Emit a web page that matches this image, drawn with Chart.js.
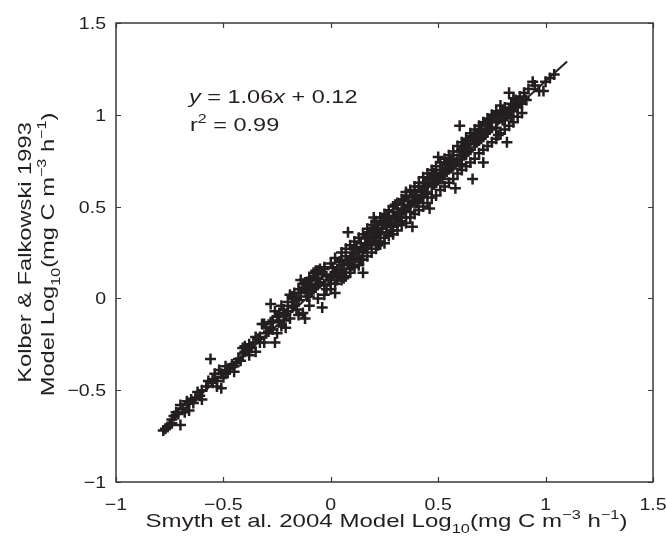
<!DOCTYPE html>
<html>
<head>
<meta charset="utf-8">
<script src="https://cdn.jsdelivr.net/npm/chart.js@4.4.0/dist/chart.umd.min.js"></script>
<style>
  body { margin: 0; background: #fff; }
  #wrap { width: 666px; height: 550px; }
</style>
</head>
<body>
<div id="wrap"><canvas id="scatterChart" width="666" height="550"></canvas></div>
<script>
  // values: [Smyth et al. 2004, Kolber & Falkowski 1993]
  const lowerBand = [
    [-0.78,-0.72],[-0.77,-0.71],[-0.76,-0.70],[-0.75,-0.69],[-0.74,-0.66],[-0.74,-0.68],[-0.73,-0.64],
    [-0.72,-0.62],[-0.71,-0.63],[-0.70,-0.69],[-0.70,-0.58],[-0.69,-0.60],[-0.68,-0.62],[-0.67,-0.56],
    [-0.66,-0.57],[-0.66,-0.61],[-0.65,-0.55],[-0.64,-0.57],[-0.63,-0.54],[-0.62,-0.51],[-0.61,-0.53],
    [-0.60,-0.50],[-0.60,-0.55],[-0.58,-0.48],[-0.57,-0.45],[-0.56,-0.33],[-0.55,-0.44],[-0.55,-0.46],
    [-0.54,-0.41],[-0.53,-0.45],[-0.53,-0.48],[-0.52,-0.39],[-0.51,-0.49],[-0.51,-0.41],[-0.50,-0.43],
    [-0.49,-0.41],[-0.49,-0.37],[-0.48,-0.40],[-0.47,-0.38],[-0.46,-0.36],[-0.45,-0.37],[-0.45,-0.40],
    [-0.44,-0.35],[-0.43,-0.33],[-0.42,-0.34],[-0.41,-0.30],[-0.41,-0.27],[-0.40,-0.26],[-0.40,-0.29],
    [-0.39,-0.28],[-0.38,-0.25],[-0.38,-0.31],[-0.37,-0.27],[-0.36,-0.24],[-0.35,-0.29],[-0.35,-0.21],
    [-0.34,-0.22],[-0.33,-0.21],[-0.33,-0.24],[-0.32,-0.14],[-0.31,-0.14],[-0.31,-0.24],[-0.30,-0.19],
    [-0.30,-0.16],[-0.29,-0.18]
  ];

  const middleBand = [
    [-0.28,-0.03],[-0.28,-0.13],[-0.27,-0.12],[-0.27,-0.17],[-0.26,-0.24],[-0.26,-0.07],[-0.25,-0.19],
    [-0.25,-0.10],[-0.24,-0.08],[-0.24,-0.13],[-0.23,-0.15],[-0.23,-0.04],[-0.22,-0.06],[-0.22,-0.12],
    [-0.21,-0.09],[-0.21,-0.16],[-0.20,-0.02],[-0.20,-0.07],[-0.19,0.02],[-0.19,-0.11],[-0.18,-0.05],
    [-0.18,0.01],[-0.17,-0.04],[-0.17,0.03],[-0.16,0.00],[-0.16,-0.06],[-0.15,-0.01],[-0.15,0.05],
    [-0.15,-0.09],[-0.14,0.10],[-0.14,0.03],[-0.13,-0.08],[-0.13,0.06],[-0.13,0.08],[-0.12,-0.11],
    [-0.12,0.05],[-0.11,0.01],[-0.11,0.09],[-0.10,0.07],[-0.10,0.01],[-0.10,-0.04],[-0.10,0.11],
    [-0.09,0.04],[-0.09,0.10],[-0.08,0.14],[-0.08,0.05],[-0.08,0.12],[-0.07,0.15],[-0.07,0.06],
    [-0.06,0.11],[-0.06,0.08],[-0.06,0.00],[-0.06,0.15],[-0.05,0.09],[-0.05,0.16],[-0.04,-0.05],
    [-0.04,0.13],[-0.03,0.16],[-0.03,0.07],[-0.03,0.02],[-0.03,0.17],[-0.02,0.05],[-0.02,0.12],
    [-0.01,0.10],[0.00,0.12],[0.00,0.08],[0.00,0.05],[0.00,0.19],[0.01,0.17],[0.01,0.13],[0.02,0.03],
    [0.02,0.14],[0.02,0.08],[0.02,0.22],[0.03,0.10],[0.03,0.16],[0.04,0.20],[0.04,0.12],[0.05,0.15],
    [0.05,0.21],[0.05,0.10],[0.05,0.25],[0.06,0.11],[0.06,0.18],[0.07,0.23],[0.07,0.14],[0.07,0.12],
    [0.07,0.27],[0.08,0.36],[0.08,0.19],[0.09,0.16],[0.09,0.22],[0.09,0.29],[0.09,0.14],[0.10,0.25],
    [0.10,0.18],[0.11,0.21],[0.11,0.27],[0.11,0.31],[0.11,0.17],[0.12,0.28],[0.12,0.22],[0.13,0.18],
    [0.13,0.25],[0.13,0.33],[0.14,0.30],[0.14,0.21],[0.15,0.14],[0.15,0.26],[0.15,0.21],[0.15,0.35],
    [0.16,0.33],[0.16,0.27],[0.17,0.29],[0.17,0.34],[0.17,0.23],[0.17,0.38],[0.18,0.36],[0.18,0.30],
    [0.19,0.31],[0.19,0.37],[0.19,0.25],[0.19,0.40],[0.20,0.44],[0.20,0.38],[0.20,0.33],[0.21,0.34],
    [0.21,0.40],[0.21,0.27],[0.21,0.42],[0.22,0.29],[0.22,0.40],[0.22,0.35],[0.23,0.36],[0.23,0.31],
    [0.23,0.30],[0.23,0.44],[0.24,0.42],[0.24,0.38],[0.25,0.33],[0.25,0.41],[0.25,0.30],[0.25,0.46],
    [0.26,0.45],[0.26,0.39],[0.26,0.36],[0.27,0.41],[0.27,0.44],[0.27,0.34],[0.27,0.48],[0.28,0.37],
    [0.28,0.41],[0.29,0.47],[0.29,0.39],[0.29,0.35],[0.29,0.50],[0.30,0.43],[0.30,0.51]
  ];

  const upperBand = [
    [0.31,0.40],[0.31,0.46],[0.31,0.37],[0.31,0.52],[0.32,0.46],[0.32,0.42],[0.33,0.49],[0.33,0.44],
    [0.33,0.40],[0.33,0.54],[0.34,0.53],[0.34,0.48],[0.35,0.44],[0.35,0.56],[0.35,0.41],[0.35,0.58],
    [0.36,0.50],[0.36,0.53],[0.37,0.47],[0.37,0.51],[0.37,0.44],[0.37,0.59],[0.38,0.39],[0.38,0.55],
    [0.39,0.58],[0.39,0.52],[0.39,0.46],[0.39,0.61],[0.40,0.52],[0.40,0.56],[0.41,0.61],[0.41,0.54],
    [0.41,0.48],[0.41,0.63],[0.42,0.55],[0.42,0.59],[0.43,0.60],[0.43,0.56],[0.43,0.50],[0.43,0.66],
    [0.44,0.63],[0.44,0.58],[0.45,0.57],[0.45,0.62],[0.45,0.52],[0.45,0.68],[0.46,0.49],[0.46,0.66],
    [0.47,0.61],[0.47,0.65],[0.47,0.55],[0.47,0.70],[0.48,0.68],[0.48,0.62],[0.49,0.63],[0.49,0.67],
    [0.49,0.56],[0.49,0.72],[0.50,0.77],[0.50,0.66],[0.51,0.70],[0.51,0.66],[0.51,0.59],[0.51,0.74],
    [0.52,0.65],[0.52,0.70],[0.53,0.73],[0.53,0.68],[0.53,0.61],[0.53,0.76],[0.54,0.69],[0.54,0.74],
    [0.55,0.75],[0.55,0.71],[0.55,0.63],[0.55,0.78],[0.56,0.71],[0.56,0.76],[0.57,0.78],[0.57,0.72],
    [0.57,0.65],[0.57,0.80],[0.58,0.60],[0.58,0.73],[0.59,0.76],[0.59,0.68],[0.59,0.83],[0.60,0.94],
    [0.60,0.80],[0.60,0.73],[0.61,0.76],[0.61,0.81],[0.61,0.70],[0.61,0.85],[0.62,0.83],[0.62,0.78],
    [0.63,0.79],[0.63,0.84],[0.63,0.72],[0.63,0.87],[0.64,0.86],[0.64,0.80],[0.65,0.81],[0.65,0.87],
    [0.65,0.74],[0.65,0.90],[0.66,0.65],[0.66,0.88],[0.67,0.84],[0.67,0.89],[0.67,0.76],[0.67,0.92],
    [0.68,0.90],[0.68,0.85],[0.69,0.86],[0.69,0.92],[0.69,0.79],[0.69,0.94],[0.70,0.92],[0.70,0.87],
    [0.71,0.74],[0.71,0.88],[0.71,0.81],[0.71,0.96],[0.72,0.95],[0.72,0.90],[0.73,0.91],[0.73,0.96],
    [0.73,0.83],[0.73,0.98],[0.74,0.97],[0.74,0.92],[0.75,0.93],[0.75,0.98],[0.75,0.85],[0.75,1.00],
    [0.76,0.99],[0.77,0.96],[0.77,0.93],[0.77,0.87],[0.77,1.02],[0.78,0.89],[0.78,1.00],[0.79,1.01],
    [0.79,0.90],[0.79,1.05],[0.80,0.97],[0.80,1.02],[0.81,1.04],[0.81,0.98],[0.81,0.92],[0.82,0.85],
    [0.82,1.00],[0.83,1.12],[0.83,1.03],[0.83,0.94],[0.84,1.06],[0.84,0.99],[0.85,1.02],[0.85,0.96],
    [0.85,1.09],[0.86,1.08],[0.86,1.05],[0.87,1.04],[0.87,0.99],[0.88,1.10],[0.88,1.07],[0.89,1.06],
    [0.89,1.01],[0.90,1.12],[0.90,1.09],[0.91,1.08],[0.92,1.14],[0.94,1.18],[0.95,1.16],[0.97,1.13],
    [0.99,1.13],[1.00,1.18],[1.02,1.20],[1.04,1.22]
  ];

  // fitted line y = 1.06x + 0.12, end points as drawn
  const fitX = [-0.78, 1.10];
  const fitY = [-0.71, 1.29];

  const xTicks = [-1, -0.5, 0, 0.5, 1, 1.5];
  const yTicks = [-1, -0.5, 0, 0.5, 1, 1.5];

  const ink = '#231f20';
  const fontFamily = '"Liberation Sans", Arial, sans-serif';

  const xTitle = [
    { t: 'Smyth et al. 2004 Model Log' }, { t: '10', sub: true }, { t: '(mg C m' },
    { t: '\u22123', sup: true }, { t: ' h' }, { t: '\u22121', sup: true }, { t: ')' }
  ];
  const yTitle1 = [{ t: 'Kolber & Falkowski 1993' }];
  const yTitle2 = [
    { t: 'Model Log' }, { t: '10', sub: true }, { t: '(mg C m' },
    { t: '\u22123', sup: true }, { t: ' h' }, { t: '\u22121', sup: true }, { t: ')' }
  ];
  const fitText = [{ t: 'y', it: true }, { t: ' = 1.06' }, { t: 'x', it: true }, { t: ' + 0.12' }];
  const r2Text = [{ t: 'r' }, { t: '2', sup: true }, { t: ' = 0.99' }];

  function partFont(p, size) {
    const s = (p.sub || p.sup) ? size * 0.68 : size;
    return (p.it ? 'italic ' : '') + s + 'px ' + fontFamily;
  }

  function richWidth(ctx, parts, size) {
    let w = 0;
    parts.forEach(p => {
      ctx.font = partFont(p, size);
      w += ctx.measureText(p.t).width;
    });
    return w;
  }

  // draws text at (x, y) baseline, stretched along the text direction
  function drawRich(ctx, parts, x, y, size, stretch, align, angle) {
    ctx.save();
    ctx.translate(x, y);
    if (angle) ctx.rotate(angle);
    ctx.scale(stretch, 1);
    const w = richWidth(ctx, parts, size);
    let cx = align === 'center' ? -w / 2 : align === 'right' ? -w : 0;
    ctx.fillStyle = ink;
    ctx.textBaseline = 'alphabetic';
    ctx.textAlign = 'left';
    parts.forEach(p => {
      ctx.font = partFont(p, size);
      let dy = 0;
      if (p.sup) dy = -size * 0.42;
      if (p.sub) dy = size * 0.3;
      ctx.fillText(p.t, cx, dy);
      cx += ctx.measureText(p.t).width;
    });
    ctx.restore();
  }

  function tickText(v) {
    return v < 0 ? '\u2212' + Math.abs(v) : String(v);
  }

  const frame = {
    id: 'frame',
    afterDraw(chart) {
      const ctx = chart.ctx;
      const a = chart.chartArea;
      const xs = chart.scales.x;
      const ys = chart.scales.y;

      ctx.save();
      ctx.strokeStyle = '#3a3a3a';
      ctx.lineWidth = 1.5;
      ctx.strokeRect(a.left, a.top, a.right - a.left, a.bottom - a.top);

      ctx.lineWidth = 1.2;
      ctx.beginPath();
      xTicks.forEach(v => {
        const px = Math.round(xs.getPixelForValue(v)) + 0.5;
        ctx.moveTo(px, a.bottom); ctx.lineTo(px, a.bottom - 5);
        ctx.moveTo(px, a.top); ctx.lineTo(px, a.top + 5);
      });
      yTicks.forEach(v => {
        const py = Math.round(ys.getPixelForValue(v)) + 0.5;
        ctx.moveTo(a.left, py); ctx.lineTo(a.left + 5, py);
        ctx.moveTo(a.right, py); ctx.lineTo(a.right - 5, py);
      });
      ctx.stroke();
      ctx.restore();

      xTicks.forEach(v => {
        drawRich(ctx, [{ t: tickText(v) }], xs.getPixelForValue(v), 510, 17, 1.15, 'center');
      });
      yTicks.forEach(v => {
        drawRich(ctx, [{ t: tickText(v) }], 106, ys.getPixelForValue(v) + 6, 17, 1.15, 'right');
      });

      drawRich(ctx, xTitle, (a.left + a.right) / 2 + 2, 527, 18.5, 1.3, 'center');
      const cy = (a.top + a.bottom) / 2;
      drawRich(ctx, yTitle1, 31, cy, 18.5, 1.28, 'center', -Math.PI / 2);
      drawRich(ctx, yTitle2, 54, cy + 2, 18.5, 1.28, 'center', -Math.PI / 2);

      drawRich(ctx, fitText, 189, 103, 18.5, 1.27, 'left');
      drawRich(ctx, r2Text, 190, 131, 18.5, 1.27, 'left');
    }
  };

  const puntos = [...lowerBand, ...middleBand, ...upperBand].map(([x, y]) => ({ x, y }));
  const linha = fitX.map((x, i) => ({ x, y: fitY[i] }));

  const ctx = document.getElementById('scatterChart').getContext('2d');

  new Chart(ctx, {
    type: 'scatter',
    data: {
      datasets: [{
        label: 'Modelos',
        data: puntos,
        pointStyle: 'cross',
        pointRadius: 5.5,
        pointBorderWidth: 2.5,
        borderColor: ink,
        backgroundColor: ink
      }, {
        label: 'Ajuste',
        data: linha,
        showLine: true,
        pointRadius: 0,
        borderColor: ink,
        borderWidth: 2,
        fill: false
      }]
    },
    options: {
      responsive: false,
      animation: false,
      layout: { padding: { top: 23, right: 13, left: 0, bottom: 0 } },
      plugins: {
        legend: { display: false },
        tooltip: { enabled: false }
      },
      scales: {
        x: {
          type: 'linear',
          min: -1,
          max: 1.5,
          ticks: { display: false, stepSize: 0.5 },
          grid: { display: false },
          border: { display: false },
          afterFit: scale => { scale.height = 68; }
        },
        y: {
          type: 'linear',
          min: -1,
          max: 1.5,
          ticks: { display: false, stepSize: 0.5 },
          grid: { display: false },
          border: { display: false },
          afterFit: scale => { scale.width = 116; }
        }
      }
    },
    plugins: [frame]
  });
</script>
</body>
</html>
